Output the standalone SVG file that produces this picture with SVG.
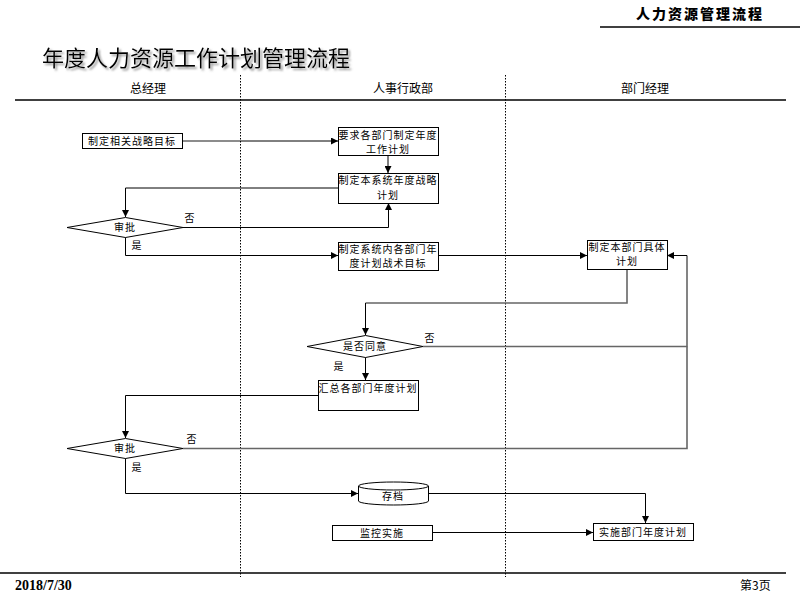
<svg xmlns="http://www.w3.org/2000/svg" width="800" height="600" viewBox="0 0 800 600">
<defs>
<style>
.t{font-family:"Noto Sans CJK SC","Liberation Sans",sans-serif;font-size:10px;letter-spacing:1px;fill:#000;text-anchor:middle}
.box{fill:#fff;stroke:#000;stroke-width:1}
.ln{fill:none;stroke:#000;stroke-width:1}
.lg{fill:none;stroke:#666;stroke-width:1.6}
.div{stroke:#000;stroke-width:1;stroke-dasharray:1.5 1.5}
.hd{font-family:"Noto Sans CJK SC","Liberation Sans",sans-serif;font-size:12px;text-anchor:middle}
</style>
<marker id="ar" viewBox="0 0 8 8" refX="8" refY="4" markerWidth="7" markerHeight="7" orient="auto" markerUnits="userSpaceOnUse">
<path d="M0,0 L8,4 L0,8 z" fill="#000"/>
</marker>
<filter id="sh" x="-5%" y="-20%" width="110%" height="150%">
<feDropShadow dx="2" dy="2" stdDeviation="0.8" flood-color="#888" flood-opacity="0.9"/>
</filter>
</defs>
<rect width="800" height="600" fill="#fff"/>

<!-- page header -->
<text x="700" y="19" font-family="Noto Sans CJK SC, sans-serif" font-size="14" font-weight="900" text-anchor="middle" letter-spacing="2">人力资源管理流程</text>
<line x1="600" y1="27" x2="800" y2="27" stroke="#000" stroke-width="1.5"/>
<text x="42" y="66" font-family="Noto Sans CJK SC, sans-serif" font-size="22" filter="url(#sh)">年度人力资源工作计划管理流程</text>

<!-- lanes -->
<g id="lanes">
<text class="hd" x="148" y="93">总经理</text>
<text class="hd" x="403" y="93">人事行政部</text>
<text class="hd" x="645" y="93">部门经理</text>
<line x1="15" y1="100" x2="786" y2="100" stroke="#000" stroke-width="1.5"/>
<line class="div" x1="240.5" y1="75" x2="240.5" y2="577"/>
<line class="div" x1="505.5" y1="75" x2="505.5" y2="577"/>
<line x1="0" y1="573" x2="786" y2="573" stroke="#000" stroke-width="1.5"/>
</g>

<text x="15" y="590" font-family="Liberation Serif, serif" font-size="14" font-weight="bold">2018/7/30</text>
<text x="740" y="590" font-family="Noto Sans CJK SC, sans-serif" font-size="12">第3页</text>

<!-- connectors -->
<g id="connectors">
<path class="lg" d="M182,141 H240"/>
<path class="ln" d="M240,141 H338" marker-end="url(#ar)"/>
<path class="ln" d="M388,155 V173" marker-end="url(#ar)"/>
<path class="ln" d="M338,188 H125.5 V217" marker-end="url(#ar)"/>
<path class="ln" d="M183,227.5 H388.5 V203" marker-end="url(#ar)"/>
<path class="ln" d="M125.5,237 V255.5 H338" marker-end="url(#ar)"/>
<path class="ln" d="M438,255.5 H587" marker-end="url(#ar)"/>
<path class="lg" d="M627,269 V303 H365.5"/>
<path class="ln" d="M365.5,303 V335" marker-end="url(#ar)"/>
<path class="lg" d="M423,346.5 H687 V255.5"/>
<path class="ln" d="M687,255.5 H667" marker-end="url(#ar)"/>
<path class="ln" d="M365.5,357 V380" marker-end="url(#ar)"/>
<path class="ln" d="M318,395.5 H125.5 V438" marker-end="url(#ar)"/>
<path class="lg" d="M183,448.5 H687 V346.5"/>
<path class="ln" d="M125.5,458 V493.5 H358" marker-end="url(#ar)"/>
<path class="ln" d="M428,493.5 H645.5 V523" marker-end="url(#ar)"/>
<path class="ln" d="M432,532.5 H593" marker-end="url(#ar)"/>
<text class="t" x="190" y="222">否</text>
<text class="t" x="137" y="249">是</text>
<text class="t" x="430" y="342">否</text>
<text class="t" x="339" y="370">是</text>
<text class="t" x="192" y="443">否</text>
<text class="t" x="137" y="471">是</text>
</g>

<!-- nodes -->
<g id="n1"><rect class="box" x="82.5" y="133.5" width="100" height="15"/><text class="t" x="132" y="145">制定相关战略目标</text></g>
<g id="n2"><rect class="box" x="338.5" y="127.5" width="100" height="28"/><text class="t" x="388" y="139">要求各部门制定年度</text><text class="t" x="388" y="153">工作计划</text></g>
<g id="n3"><rect class="box" x="338.5" y="173.5" width="100" height="30"/><text class="t" x="388" y="184">制定本系统年度战略</text><text class="t" x="388" y="199">计划</text></g>
<g id="n4"><rect class="box" x="338.5" y="242.5" width="100" height="28"/><text class="t" x="388" y="253">制定系统内各部门年</text><text class="t" x="388" y="267">度计划战术目标</text></g>
<g id="d1"><path class="box" d="M67,227.5 L125.5,217.5 L183,227.5 L125.5,237.5 z"/><text class="t" x="125" y="231">审批</text></g>
<g id="n5"><rect class="box" x="587.5" y="240.5" width="80" height="29"/><text class="t" x="627" y="251">制定本部门具体</text><text class="t" x="627" y="265">计划</text></g>
<g id="d2"><path class="box" d="M307,346.5 L365.5,335.5 L423,346.5 L365.5,357.5 z"/><text class="t" x="365" y="350">是否同意</text></g>
<g id="n6"><rect class="box" x="318.5" y="380.5" width="100" height="30"/><text class="t" x="368" y="392">汇总各部门年度计划</text></g>
<g id="d3"><path class="box" d="M67,448.5 L125.5,438.5 L183,448.5 L125.5,458.5 z"/><text class="t" x="125" y="452">审批</text></g>
<g id="n7"><path class="box" d="M358.5,486 V501 A35,4 0 0 0 428.5,501 V486 A35,4 0 0 0 358.5,486 A35,4 0 0 0 428.5,486"/><text class="t" x="393" y="500">存档</text></g>
<g id="n8"><rect class="box" x="332.5" y="525.5" width="100" height="15"/><text class="t" x="382" y="537">监控实施</text></g>
<g id="n9"><rect class="box" x="593.5" y="523.5" width="100" height="17"/><text class="t" x="643" y="536">实施部门年度计划</text></g>
</svg>
